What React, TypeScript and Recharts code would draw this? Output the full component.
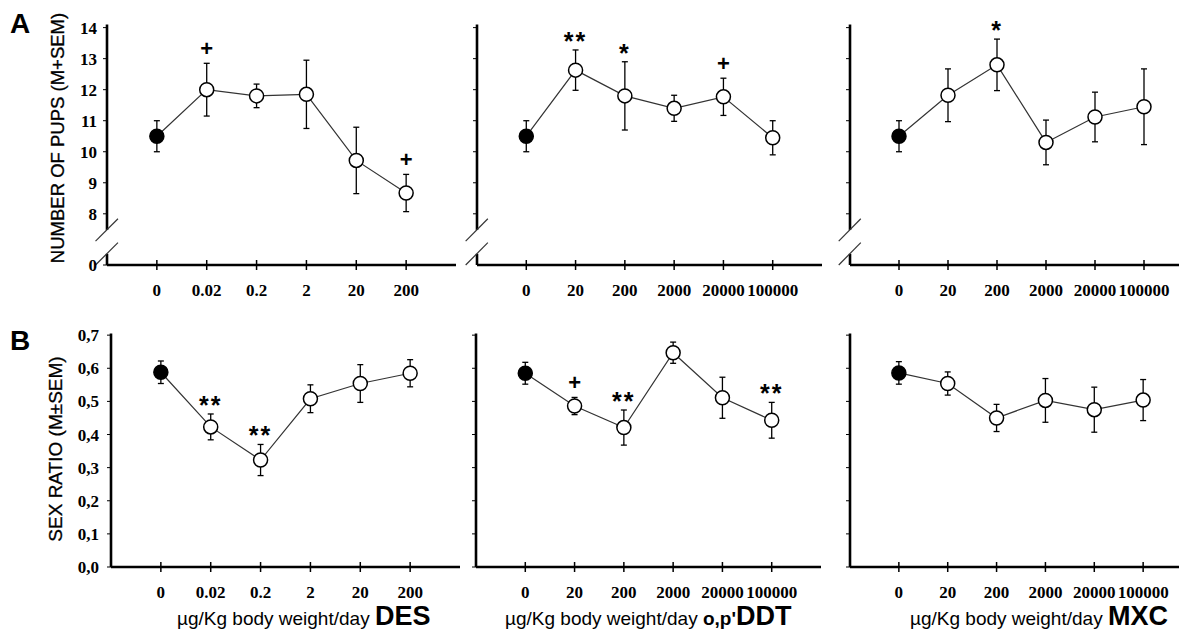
import React from 'react'
import { ComposedChart, Line, XAxis, YAxis, ErrorBar, ReferenceLine } from 'recharts'

// dose categories (x axis)
const desDoses = ['0', '0.02', '0.2', '2', '20', '200']
const ddtDoses = ['0', '20', '200', '2000', '20000', '100000']
const mxcDoses = ['0', '20', '200', '2000', '20000', '100000']

// A: number of pups (mean, SEM, significance)
const desPups = [10.5, 12.0, 11.8, 11.85, 9.72, 8.67]
const desPupsErr = [0.5, 0.85, 0.38, 1.1, 1.07, 0.6]
const desPupsSig = ['', '+', '', '', '', '+']

const ddtPups = [10.5, 12.63, 11.8, 11.4, 11.77, 10.45]
const ddtPupsErr = [0.5, 0.65, 1.1, 0.42, 0.6, 0.55]
const ddtPupsSig = ['', '**', '*', '', '+', '']

const mxcPups = [10.5, 11.82, 12.8, 10.3, 11.12, 11.45]
const mxcPupsErr = [0.5, 0.85, 0.83, 0.72, 0.8, 1.22]
const mxcPupsSig = ['', '', '*', '', '', '']

// B: sex ratio
const desRatio = [0.588, 0.423, 0.323, 0.508, 0.554, 0.585]
const desRatioErr = [0.034, 0.039, 0.047, 0.042, 0.057, 0.041]
const desRatioSig = ['', '**', '**', '', '', '']

const ddtRatio = [0.585, 0.486, 0.421, 0.647, 0.511, 0.443]
const ddtRatioErr = [0.033, 0.026, 0.053, 0.032, 0.062, 0.054]
const ddtRatioSig = ['', '+', '**', '', '', '**']

const mxcRatio = [0.586, 0.554, 0.45, 0.503, 0.475, 0.504]
const mxcRatioErr = [0.034, 0.035, 0.041, 0.066, 0.068, 0.062]
const mxcRatioSig = ['', '', '', '', '', '']

const pupTicks = [6.35, 8, 9, 10, 11, 12, 13, 14]
const ratioTicks = [0, 0.1, 0.2, 0.3, 0.4, 0.5, 0.6, 0.7]

const SERIF = '"Liberation Serif", "Times New Roman", serif'
const SANS = '"Liberation Sans", Arial, sans-serif'

const build = (vals: number[], errs: number[], sigs: string[]) =>
  vals.map((v, i) => ({ idx: i, v, err: errs[i], sig: sigs[i], sigBase: sigs[i] ? v + errs[i] : null }))

const renderDot = (p: any) => (
  <circle
    key={`d${p.index}`}
    cx={p.cx}
    cy={p.cy}
    r={7}
    fill={p.index === 0 ? '#000' : '#fff'}
    stroke="#000"
    strokeWidth={1.5}
  />
)

const renderSig = (p: any) => {
  const s = p.payload?.sig
  if (!s || p.cy == null) return <g key={`s${p.index}`} />
  const center = p.cy - 15
  const isPlus = s === '+'
  const size = isPlus ? 22 : 25
  return (
    <text
      key={`s${p.index}`}
      x={p.cx}
      y={center + (isPlus ? 0.34 : 0.6) * size}
      textAnchor="middle"
      fontFamily={SANS}
      fontWeight="bold"
      fontSize={size}
      letterSpacing={isPlus ? 0 : 2}
      fill="#000"
    >
      {s}
    </text>
  )
}

const XTick = ({ x, y, payload, labels }: any) => (
  <g>
    <line x1={x} x2={x} y1={y - 24} y2={y - 19} stroke="#000" strokeWidth={1.5} />
    <text x={x} y={y} dy="0.71em" textAnchor="middle" fontFamily={SERIF} fontWeight="bold" fontSize={17} fill="#000">
      {labels[payload.value]}
    </text>
  </g>
)

interface PanelProps {
  data: ReturnType<typeof build>
  doses: string[]
  kind: 'pups' | 'ratio'
  showLabels: boolean
  left: number
  top: number
  axisW: number
  plotW: number
}

function Panel({ data, doses, kind, showLabels, left, top, axisW, plotW }: PanelProps) {
  const pups = kind === 'pups'
  const marginTop = pups ? 9 : 33.5
  const plotH = pups ? 256 : 233.5
  const height = marginTop + plotH + 40
  const width = axisW + plotW + 4
  const yTick = showLabels
    ? { fontFamily: SERIF, fontWeight: 'bold', fontSize: 17, fill: '#000' }
    : () => <g />
  const yTicks = pups ? (showLabels ? pupTicks : pupTicks.slice(1)) : ratioTicks
  return (
    <div style={{ position: 'absolute', left, top }}>
      <ComposedChart width={width} height={height} data={data} margin={{ top: marginTop, right: 4, bottom: 0, left: 0 }}>
        <XAxis
          type="number"
          dataKey="idx"
          domain={[-1, 6]}
          ticks={[0, 1, 2, 3, 4, 5]}
          interval={0}
          height={40}
          tickSize={5}
          tickMargin={14}
          axisLine={{ stroke: '#000', strokeWidth: 2.6 }}
          tickLine={{ stroke: '#000', strokeWidth: 1.5 }}
          tick={(p: any) => <XTick {...p} labels={doses} />}
        />
        <YAxis
          type="number"
          width={axisW}
          domain={pups ? [6.35, 14.6] : [0, 0.705]}
          ticks={yTicks}
          interval={0}
          tickSize={4}
          tickMargin={pups ? 6 : 8}
          axisLine={pups ? false : { stroke: '#000', strokeWidth: 2.6 }}
          tickLine={{ stroke: '#000', strokeWidth: 1 }}
          tick={yTick as any}
          tickFormatter={(v: number) => (pups ? (v < 7 ? '0' : String(v)) : v.toFixed(1).replace('.', ','))}
        />
        {pups && (
          <>
            <ReferenceLine segment={[{ x: -1, y: 7.48 }, { x: -1, y: 14.1 }]} stroke="#000" strokeWidth={2.6} ifOverflow="visible" />
            <ReferenceLine segment={[{ x: -1, y: 6.35 }, { x: -1, y: 6.71 }]} stroke="#000" strokeWidth={2.6} ifOverflow="visible" />
            <ReferenceLine segment={[{ x: -1.23, y: 7.12 }, { x: -0.78, y: 7.84 }]} stroke="#333" strokeWidth={1.2} ifOverflow="visible" />
            <ReferenceLine segment={[{ x: -1.23, y: 6.35 }, { x: -0.78, y: 7.07 }]} stroke="#333" strokeWidth={1.2} ifOverflow="visible" />
          </>
        )}
        <Line
          type="linear"
          dataKey="v"
          stroke="#333"
          strokeWidth={1.2}
          dot={renderDot}
          activeDot={false}
          isAnimationActive={false}
        >
          <ErrorBar dataKey="err" width={3} stroke="#000" strokeWidth={1.3} direction="y" isAnimationActive={false} />
        </Line>
        <Line
          type="linear"
          dataKey="sigBase"
          stroke="none"
          dot={renderSig}
          activeDot={false}
          isAnimationActive={false}
        />
      </ComposedChart>
    </div>
  )
}

export default function App() {
  return (
    <div style={{ position: 'fixed', left: 0, top: 0, width: 1179, height: 637, overflow: 'hidden', background: '#fff' }}>
      <Panel data={build(desPups, desPupsErr, desPupsSig)} doses={desDoses} kind="pups" showLabels left={0} top={0} axisW={107} plotW={349} />
      <Panel data={build(ddtPups, ddtPupsErr, ddtPupsSig)} doses={ddtDoses} kind="pups" showLabels={false} left={380} top={0} axisW={97} plotW={345} />
      <Panel data={build(mxcPups, mxcPupsErr, mxcPupsSig)} doses={mxcDoses} kind="pups" showLabels={false} left={760} top={0} axisW={90} plotW={343} />

      <Panel data={build(desRatio, desRatioErr, desRatioSig)} doses={desDoses} kind="ratio" showLabels left={0} top={300} axisW={111} plotW={349} />
      <Panel data={build(ddtRatio, ddtRatioErr, ddtRatioSig)} doses={ddtDoses} kind="ratio" showLabels={false} left={380} top={300} axisW={96} plotW={345} />
      <Panel data={build(mxcRatio, mxcRatioErr, mxcRatioSig)} doses={mxcDoses} kind="ratio" showLabels={false} left={760} top={300} axisW={90} plotW={342} />

      <svg width={1179} height={637} style={{ position: 'absolute', left: 0, top: 0, pointerEvents: 'none' }}>
        <text x={10} y={33} fontFamily={SANS} fontWeight="bold" fontSize={28} fill="#000">A</text>
        <text x={10} y={350} fontFamily={SANS} fontWeight="bold" fontSize={28} fill="#000">B</text>
        <text transform="translate(57,138) rotate(-90)" textAnchor="middle" dominantBaseline="central" fontFamily={SANS} fontSize={18.5} fill="#000" stroke="#000" strokeWidth={0.3}>
          NUMBER OF PUPS (M+SEM)
        </text>
        <text transform="translate(55,449) rotate(-90)" textAnchor="middle" dominantBaseline="central" fontFamily={SANS} fontSize={19} fill="#000" stroke="#000" strokeWidth={0.3}>
          SEX RATIO (M±SEM)
        </text>
        <text x={177} y={625} fontFamily={SANS} fontSize={19} fill="#000">
          µg/Kg body weight/day <tspan fontWeight="bold" fontSize={27}>DES</tspan>
        </text>
        <text x={505} y={625} fontFamily={SANS} fontSize={19} fill="#000">
          µg/Kg body weight/day <tspan fontWeight="bold">o,p'</tspan><tspan fontWeight="bold" fontSize={27}>DDT</tspan>
        </text>
        <text x={910} y={625} fontFamily={SANS} fontSize={19} fill="#000">
          µg/Kg body weight/day <tspan fontWeight="bold" fontSize={27}>MXC</tspan>
        </text>
      </svg>
    </div>
  )
}
